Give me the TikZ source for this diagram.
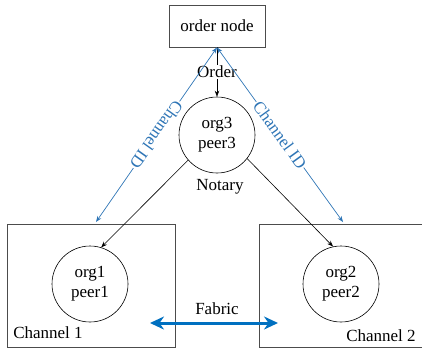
\documentclass[tikz,border=0pt]{standalone}
\usepackage{fontspec}
\setmainfont{Liberation Serif}
\usetikzlibrary{arrows.meta}
\definecolor{chblue}{RGB}{46,117,182}
\definecolor{fabblue}{RGB}{0,112,192}
\begin{document}
\begin{tikzpicture}[x=1pt,y=-1pt,
  every node/.style={font=\fontsize{17}{20}\selectfont},
  boxed/.style={draw=black!70, line width=0.9pt},
  peer/.style={draw=black, line width=0.6pt, circle, minimum size=76pt, inner sep=0pt, align=center},
  blk/.style={line width=0.6pt, -{Stealth[length=6pt,width=4.5pt]}},
  bluearr/.style={draw=chblue, line width=0.7pt, {Stealth[length=6pt,width=4.5pt]}-{Stealth[length=6pt,width=4.5pt]}},
  chlabel/.style={text=chblue, fill=white, inner sep=1pt},
  fab/.style={draw=fabblue, line width=3pt, {Stealth[length=14pt,width=13pt]}-{Stealth[length=14pt,width=13pt]}}
]
\useasboundingbox (0,0) rectangle (422,349);
% nodes
\node[boxed, minimum width=96pt, minimum height=42pt, inner sep=0pt] (order) at (217,26) {order node};
\node[peer] (org3) at (217,135) {org3\\peer3};
\node[peer] (org1) at (90,284) {org1\\peer1};
\node[peer] (org2) at (341,284) {org2\\peer2};
\node (notary) at (220,187) {Notary};
% channel boxes
\node[boxed, minimum width=168pt, minimum height=123pt, inner sep=0pt] (ch1) at (91,285.5) {};
\coordinate (c2a) at (424,224);
\coordinate (c2b) at (259,224);
\coordinate (c2c) at (259,347);
\coordinate (c2d) at (424,347);
\draw[boxed] (c2a) -- (c2b) -- (c2c) -- (c2d);
\node (ch1lab) at (48,333) {Channel 1};
\node (ch2lab) at (381,336) {Channel 2};
% connectors
\coordinate (ch1t) at (96,222);
\coordinate (ch2t) at (343,222);
\draw[blk] (order.south) -- node[fill=white, inner sep=1pt] {Order} (org3.north);
\draw[bluearr] (order.south) -- node[chlabel, rotate=234.6] {Channel ID} (ch1t);
\draw[bluearr] (order.south) -- node[chlabel, sloped] {Channel ID} (ch2t);
\draw[blk] (org3.221) -- (org1.73);
\draw[blk] (org3.-38) -- (org2.102);
% fabric
\coordinate (fa) at (150,323);
\coordinate (fb) at (278,323);
\draw[fab] (fa) -- (fb);
\node (fabric) at (217,309) {Fabric};
\end{tikzpicture}
\end{document}
